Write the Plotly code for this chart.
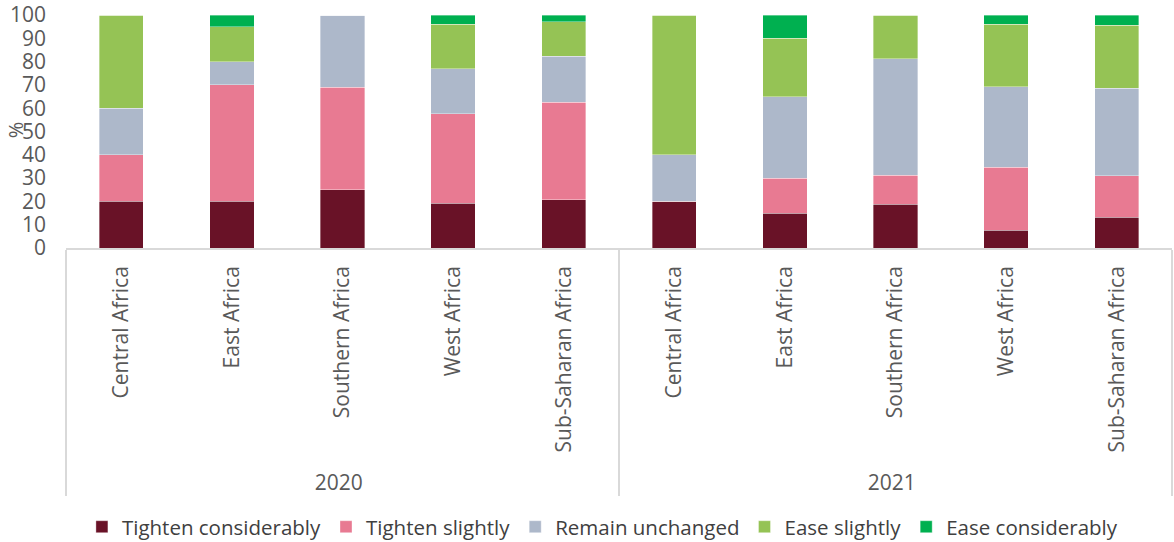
import plotly.graph_objects as go

years = ["2020"] * 5 + ["2021"] * 5
regions = ["Central Africa", "East Africa", "Southern Africa", "West Africa", "Sub-Saharan Africa"] * 2

tighten_considerably = [20, 20, 25, 19.2, 20.7, 20, 15, 18.75, 7.7, 13.1]
tighten_slightly = [20, 50, 44, 38.5, 41.9, 0, 15, 12.5, 26.9, 18.0]
remain_unchanged = [20, 10, 31, 19.2, 19.6, 20, 35, 50, 34.6, 37.4]
ease_slightly = [40, 15, 0, 19.2, 15.0, 60, 25, 18.75, 26.9, 27.1]
ease_considerably = [0, 5, 0, 3.8, 2.8, 0, 10, 0, 3.8, 4.4]

series = [
    ("Tighten considerably", tighten_considerably, "#691227"),
    ("Tighten slightly", tighten_slightly, "#E87A92"),
    ("Remain unchanged", remain_unchanged, "#ADB8CA"),
    ("Ease slightly", ease_slightly, "#95C355"),
    ("Ease considerably", ease_considerably, "#00B050"),
]

# a leading no-break space adds a little room below the rotated labels
region_labels = ["\u00a0" + r for r in regions]

FONT = "Open Sans"
fig = go.Figure()
for name, vals, col in series:
    fig.add_trace(go.Bar(
        x=[years, region_labels], y=vals, name=name,
        marker=dict(color=col, line=dict(width=0.6, color="rgba(255,255,255,0.6)")),
    ))

fig.update_layout(
    barmode="stack",
    bargap=0.6,
    width=1174, height=542,
    margin=dict(l=66, r=2, t=15, b=294, autoexpand=False),
    plot_bgcolor="white", paper_bgcolor="white",
    font=dict(family=FONT, color="#595959", size=18),
    showlegend=True,
    legend=dict(orientation="h", x=0.485, xanchor="center", y=-1.197, yanchor="middle",
                font=dict(family=FONT, size=20.5, color="#404040"),
                itemwidth=30, traceorder="normal"),
    xaxis=dict(type="multicategory", tickangle=-90, showline=True, linecolor="#D9D9D9",
               linewidth=1.5, showdividers=True, dividercolor="#D9D9D9", dividerwidth=1.5,
               tickfont=dict(family=FONT, size=21, color="#595959"), automargin=False,
               ticklabelstandoff=8, showgrid=False),
    yaxis=dict(range=[0, 100], dtick=10, showgrid=False, showline=False, zeroline=False,
               automargin=False,
               tickfont=dict(family=FONT, size=21, color="#595959"), ticklabelstandoff=19),
    annotations=[dict(text="%", xref="paper", yref="paper", x=-0.046, y=0.506,
                      xanchor="center", yanchor="middle",
                      showarrow=False, textangle=-90, font=dict(family=FONT, size=20, color="#595959"))],
)

fig.write_html("out.html", config={"displayModeBar": False},
               post_script="document.body.style.margin='0';")
